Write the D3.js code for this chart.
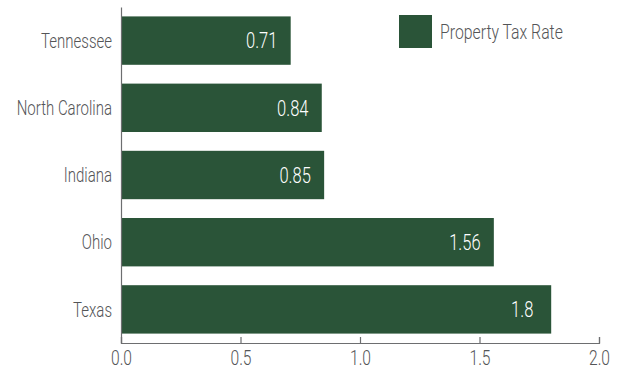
<!DOCTYPE html>
<html>
<head>
<meta charset="utf-8">
<script src="https://cdn.jsdelivr.net/npm/d3@7"></script>
<style>
  html, body { margin: 0; padding: 0; background: #fff; }
  svg { display: block; }
  text { font-family: Roboto, "Liberation Sans", sans-serif; font-weight: 300; }
</style>
</head>
<body>
<svg id="chart" width="623" height="372"></svg>
<script>
// Property tax rate by state (percent)
const states = ["Tennessee", "North Carolina", "Indiana", "Ohio", "Texas"];
const rates = [0.71, 0.84, 0.85, 1.56, 1.8];
const xTicks = [0, 0.5, 1, 1.5, 2];
const seriesName = "Property Tax Rate";

const plotLeft = 121, plotRight = 599, plotTop = 7, plotBottom = 343;
const barColor = "#2a5438";
const textColor = "#545557";
const axisColor = "#6d6e70";

const svg = d3.select("#chart");

const x = d3.scaleLinear().domain([0, 2]).range([plotLeft, plotRight]);
const y = d3.scaleBand().domain(states).range([plotTop, plotBottom])
  .paddingInner(0.28).paddingOuter(0.14);

// narrow the glyphs horizontally for a condensed look
function condense(k) {
  return sel => sel.each(function () {
    const w = this.getComputedTextLength();
    d3.select(this).attr("textLength", w * k).attr("lengthAdjust", "spacingAndGlyphs");
  });
}

function styleText(sel, size, color) {
  sel.attr("fill", color)
    .style("font-size", size + "px")
    .style("font-family", "Roboto, sans-serif")
    .style("font-weight", 300);
}

const rows = states.map((s, i) => ({ s, v: rates[i] }));

// bars
svg.append("g").selectAll("rect")
  .data(rows)
  .join("rect")
  .attr("x", x(0))
  .attr("y", d => y(d.s))
  .attr("width", d => x(d.v) - x(0))
  .attr("height", y.bandwidth())
  .attr("fill", barColor);

// value labels inside the bars
svg.append("g").selectAll("text")
  .data(rows)
  .join("text")
  .attr("x", d => x(d.v) - 29)
  .attr("y", d => y(d.s) + y.bandwidth() / 2)
  .attr("dy", "0.355em")
  .attr("text-anchor", "middle")
  .call(styleText, 22, "#ffffff")
  .text(d => String(d.v))
  .call(condense(0.75));

// y axis
const yAxis = svg.append("g")
  .attr("transform", `translate(${plotLeft},0)`)
  .call(d3.axisLeft(y).tickSize(0).tickPadding(9));
yAxis.select(".domain").attr("stroke", axisColor).attr("stroke-width", 1.2);
yAxis.selectAll("text")
  .attr("dy", "0.355em")
  .call(styleText, 20, textColor)
  .call(condense(0.75));

// x axis, ticks pointing up into the plot
const xAxis = svg.append("g")
  .attr("transform", `translate(0,${plotBottom})`)
  .call(d3.axisBottom(x).tickValues(xTicks).tickFormat(d3.format(".1f"))
    .tickSizeInner(-6).tickSizeOuter(-6).tickPadding(8));
xAxis.select(".domain").attr("stroke", axisColor).attr("stroke-width", 1.2);
xAxis.selectAll(".tick line").attr("stroke", axisColor).attr("stroke-width", 1.2);
xAxis.selectAll("text")
  .call(styleText, 20, textColor)
  .call(condense(0.78));

// legend
const legend = svg.append("g").attr("transform", "translate(399,15)");
legend.append("rect").attr("width", 33).attr("height", 33).attr("fill", barColor);
legend.append("text")
  .attr("x", 41).attr("y", 16.5).attr("dy", "0.355em")
  .call(styleText, 20, textColor)
  .text(seriesName)
  .call(condense(0.79));
</script>
</body>
</html>
